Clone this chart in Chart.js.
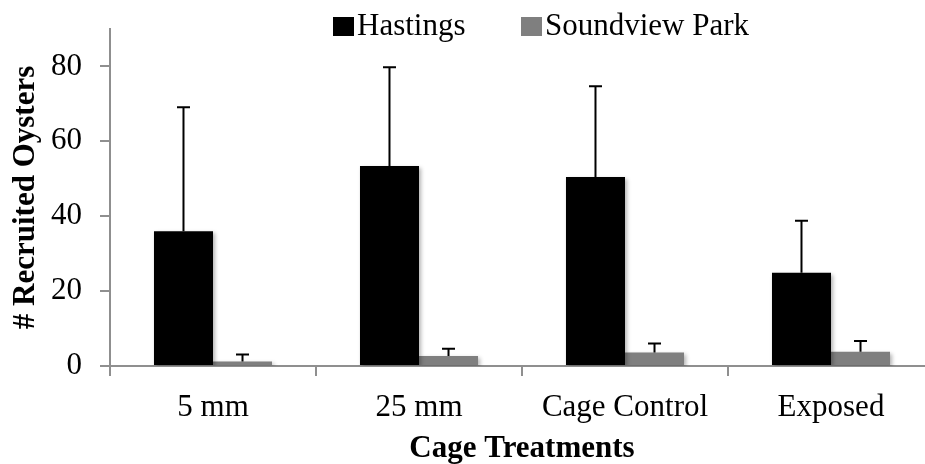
<!DOCTYPE html>
<html>
<head>
<meta charset="utf-8">
<script src="https://cdn.jsdelivr.net/npm/chart.js@4.4.1/dist/chart.umd.min.js"></script>
<style>
    html, body { margin: 0; padding: 0; background: #fff; overflow: hidden; }
    #wrap { width: 925px; height: 464px; overflow: hidden; }
</style>
</head>
<body>
<div id="wrap"><canvas id="myChart" width="940" height="464"></canvas></div>
<script>
const categories = ['5 mm', '25 mm', 'Cage Control', 'Exposed'];
const hastings = [36.0, 53.4, 50.5, 24.9];
const hastingsErr = [33.1, 26.4, 24.2, 13.9];
const soundview = [1.2, 2.7, 3.6, 3.8];
const soundviewErr = [1.9, 1.9, 2.4, 2.9];
const yTicks = [0, 20, 40, 60, 80];

const serif = '"Liberation Serif", "Times New Roman", serif';
const axisGrey = '#8f8f8f';

// error bars (upper only) + soft shadow under the bars
const errorBars = {
    id: 'errorBars',
    beforeDatasetsDraw(chart) {
        const ctx = chart.ctx;
        ctx.save();
        ctx.shadowColor = 'rgba(0, 0, 0, 0.3)';
        ctx.shadowBlur = 4;
        ctx.shadowOffsetX = 2;
        ctx.shadowOffsetY = 2;
    },
    afterDatasetsDraw(chart) {
        const ctx = chart.ctx;
        ctx.restore();
        let yScale = chart.scales.y;
        chart.data.datasets.forEach((ds, i) => {
            let meta = chart.getDatasetMeta(i);
            meta.data.forEach((bar, j) => {
                let top = yScale.getPixelForValue(ds.data[j] + ds.errors[j]);
                ctx.save();
                ctx.strokeStyle = '#000';
                ctx.lineWidth = 2;
                ctx.beginPath();
                ctx.moveTo(bar.x, bar.y);
                ctx.lineTo(bar.x, top);
                ctx.moveTo(bar.x - 6.5, top);
                ctx.lineTo(bar.x + 6.5, top);
                ctx.stroke();
                ctx.restore();
            });
        });
    }
};

// legend drawn by hand so it can sit over the top of the plot
const topLegend = {
    id: 'topLegend',
    afterDraw(chart) {
        const ctx = chart.ctx;
        let spots = [{ box: 333, text: 357 }, { box: 521, text: 545 }];
        ctx.save();
        ctx.font = '31px ' + serif;
        ctx.textBaseline = 'alphabetic';
        chart.data.datasets.forEach((ds, i) => {
            ctx.fillStyle = ds.backgroundColor;
            ctx.fillRect(spots[i].box, 17, 21, 19);
            ctx.fillStyle = '#000';
            ctx.fillText(ds.label, spots[i].text, 35);
        });
        ctx.restore();
    }
};

let ctx = document.getElementById('myChart').getContext('2d');
let myChart = new Chart(ctx, {
    type: 'bar',
    data: {
        labels: categories,
        datasets: [{
            label: 'Hastings',
            data: hastings,
            errors: hastingsErr,
            backgroundColor: '#000000',
            categoryPercentage: 0.573,
            barPercentage: 1.0
        }, {
            label: 'Soundview Park',
            data: soundview,
            errors: soundviewErr,
            backgroundColor: '#7f7f7f',
            categoryPercentage: 0.573,
            barPercentage: 1.0
        }]
    },
    options: {
        responsive: false,
        animation: false,
        layout: {
            padding: { top: 29, right: 6, bottom: 0, left: 0 }
        },
        plugins: {
            legend: { display: false },
            tooltip: { enabled: false }
        },
        scales: {
            x: {
                grid: {
                    drawOnChartArea: false,
                    color: axisGrey,
                    lineWidth: 2,
                    tickLength: 10
                },
                border: { color: axisGrey, width: 2 },
                ticks: {
                    color: '#000',
                    font: { family: serif, size: 31 },
                    padding: 13,
                    maxRotation: 0
                },
                title: {
                    display: true,
                    text: 'Cage Treatments',
                    color: '#000',
                    font: { family: serif, size: 31, weight: 'bold', lineHeight: 1.0 },
                    padding: { top: 0, bottom: 0 }
                },
                afterFit(scale) {
                    scale.height = 98;
                    scale.paddingLeft = 0;
                    scale.paddingRight = 0;
                }
            },
            y: {
                min: 0,
                max: 90,
                afterBuildTicks(scale) {
                    scale.ticks = yTicks.map(v => ({ value: v }));
                },
                grid: {
                    drawOnChartArea: false,
                    color: axisGrey,
                    lineWidth: 2,
                    tickLength: 10
                },
                border: { color: axisGrey, width: 2 },
                ticks: {
                    color: '#000',
                    font: { family: serif, size: 31 },
                    padding: 18
                },
                title: {
                    display: true,
                    text: '# Recruited Oysters',
                    color: '#000',
                    font: { family: serif, size: 31, weight: 'bold' },
                    padding: { top: 7, bottom: 0 }
                },
                afterFit(scale) {
                    scale.width = 110;
                    scale.paddingTop = 0;
                    scale.paddingBottom = 0;
                }
            }
        }
    },
    plugins: [errorBars, topLegend]
});
</script>
</body>
</html>
